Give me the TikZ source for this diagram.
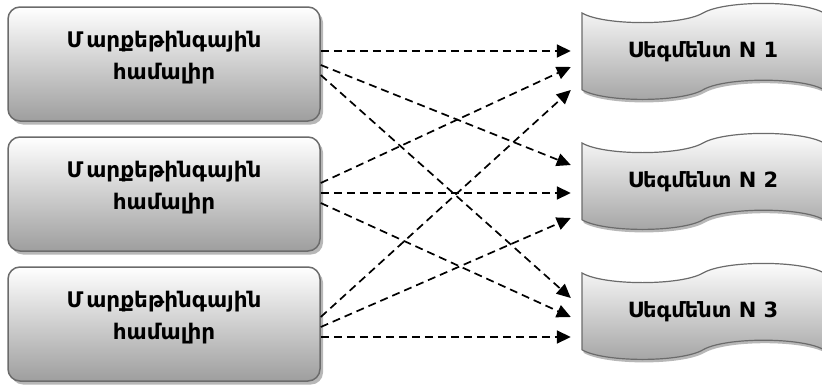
\documentclass[tikz,border=0pt]{standalone}
\usepackage{fontspec}
\setmainfont{DejaVu Sans}
\usetikzlibrary{arrows.meta,shadows,calc}

\newcommand\tapeat[2]{%
  \path[tapeshape] (#1,#2+9.6)
    .. controls (#1+22,#2+22.4) and (#1+99,#2+22.4) .. (#1+121,#2+9.6)
    .. controls (#1+143,#2-3.2) and (#1+220,#2-3.2) .. (#1+242,#2+9.6)
    -- (#1+242,#2+86.4)
    .. controls (#1+220,#2+73.6) and (#1+143,#2+73.6) .. (#1+121,#2+86.4)
    .. controls (#1+99,#2+99.2) and (#1+22,#2+99.2) .. (#1,#2+86.4)
    -- cycle;}
\newcommand\mkt{Մ\kern3pt արքեթինգային\\համալիր}

\begin{document}
\begin{tikzpicture}[x=1pt,y=-1pt,
  mbox/.style={draw=black!58, line width=1.5pt, rounded corners=12pt,
    minimum width=312pt, minimum height=114pt, top color=white,
    bottom color=black!38,
    drop shadow={shadow xshift=3pt, shadow yshift=-3.5pt, fill=black!40, opacity=0.7},
    inner sep=0pt},
  mtext/.style={align=center, font=\fontsize{21.5}{32}\selectfont\bfseries, inner sep=0pt},
  tapeshape/.style={draw=black!58, line width=1.2pt, top color=white,
    bottom color=black!36,
    drop shadow={shadow xshift=1.5pt, shadow yshift=-3pt, fill=black!40, opacity=0.7}},
  lbl/.style={minimum width=242pt, minimum height=96pt, inner sep=0pt,
    font=\fontsize{21}{25}\selectfont\bfseries},
  link/.style={dash pattern=on 8pt off 5pt, line width=1.7pt,
    -{Triangle[length=14pt,width=13pt]}}
]
\useasboundingbox (0,0) rectangle (822,386);

% left boxes
\node[mbox] (b1) at (164,64) {};
\node[mbox] (b2) at (164,194) {};
\node[mbox] (b3) at (164,324) {};
\node[mtext] (t1) at ([yshift=6pt]b1.center) {\mkt};
\node[mtext] (t2) at ([yshift=6pt]b2.center) {\mkt};
\node[mtext] (t3) at ([yshift=6pt]b3.center) {\mkt};

% segments
\tapeat{582}{3.4}
\tapeat{582}{133.4}
\tapeat{582}{263.4}
\node[lbl] (s1) at (703,51.4) {Սեգմենտ N 1};
\node[lbl] (s2) at (703,181.4) {Սեգմենտ N 2};
\node[lbl] (s3) at (703,311.4) {Սեգմենտ N 3};

% connectors
\draw[link] ([yshift=13pt]b1.east) -- ([xshift=-11pt,yshift=0.4pt]s1.west);
\draw[link] ([yshift=-1pt]b1.east) -- ([xshift=-11pt,yshift=16.4pt]s2.west);
\draw[link] ([yshift=-11pt]b1.east) -- ([xshift=-11pt,yshift=13.4pt]s3.west);

\draw[link] ([yshift=11pt]b2.east) -- ([xshift=-11pt,yshift=-15.6pt]s1.west);
\draw[link] ([yshift=1pt]b2.east) -- ([xshift=-11pt,yshift=-11.6pt]s2.west);
\draw[link] ([yshift=-9pt]b2.east) -- ([xshift=-11pt,yshift=-5.6pt]s3.west);

\draw[link] ([yshift=7pt]b3.east) -- ([xshift=-11pt,yshift=-38.6pt]s1.west);
\draw[link] ([yshift=-3pt]b3.east) -- ([xshift=-11pt,yshift=-36.6pt]s2.west);
\draw[link] ([yshift=-13pt]b3.east) -- ([xshift=-11pt,yshift=-25.6pt]s3.west);
\end{tikzpicture}
\end{document}
